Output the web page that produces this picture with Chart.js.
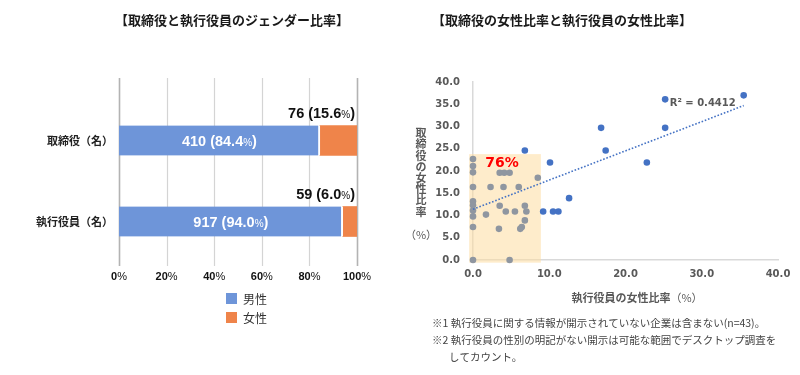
<!DOCTYPE html>
<html lang="ja">
<head>
<meta charset="utf-8">
<title>取締役と執行役員のジェンダー比率</title>
<script src="https://cdn.jsdelivr.net/npm/chart.js@4.4.1/dist/chart.umd.min.js"></script>
<style>
  html, body { margin: 0; padding: 0; background: #fff; }
  #wrap { position: relative; width: 800px; height: 375px; }
  .box { position: absolute; top: 0; width: 400px; height: 375px; }
</style>
</head>
<body>
<div id="wrap">
  <div class="box" style="left:0"><canvas id="genderChart" width="400" height="375"></canvas></div>
  <div class="box" style="left:400px"><canvas id="ratioChart" width="400" height="375"></canvas></div>
</div>
<script>
const JP = '"Noto Sans CJK JP", "Noto Sans", sans-serif';
const NUM = '"Liberation Sans", Arial, sans-serif';
const VERD = '"DejaVu Sans", Verdana, sans-serif';

// --- left: gender ratio (stacked 100% bars)
const categories = ['取締役（名）', '執行役員（名）'];
const maleCounts = [410, 917];
const femaleCounts = [76, 59];
const malePct = [84.4, 94.0];
const femalePct = [15.6, 6.0];
const pctTicks = [0, 20, 40, 60, 80, 100];
const legendNames = ['男性', '女性'];

// --- right: female ratio of directors vs executive officers
const greyX = [0, 0, 0, 0, 0, 0, 0, 0, 0, 0, 4.8, 1.7, 2.3, 3.5, 4.1, 4.8, 4.0, 3.5, 4.3, 3.4, 5.5, 6.0, 6.8, 7.0, 6.8, 6.4, 6.2, 8.5];
const greyY = [22.7, 21.1, 19.7, 16.4, 13.2, 12.3, 11.1, 9.8, 7.4, 0, 0, 10.2, 16.4, 19.6, 19.6, 19.6, 16.4, 12.2, 10.9, 7.0, 10.9, 16.4, 12.2, 10.9, 8.9, 7.4, 7.0, 18.5];
const blueX = [6.8, 10.1, 9.2, 10.5, 11.2, 12.6, 16.8, 17.4, 22.8, 25.2, 25.2, 35.5];
const blueY = [24.6, 21.9, 10.9, 10.9, 10.9, 13.9, 29.7, 24.6, 21.9, 29.7, 36.1, 37.0];
const trendX = [0, 35.5];
const trendY = [11.4, 34.7];
const r2Text = 'R² = 0.4412';
const boxShare = '76%';
const notes = [
  '※1 執行役員に関する情報が開示されていない企業は含まない(n=43)。',
  '※2 執行役員の性別の明記がない開示は可能な範囲でデスクトップ調査を',
  'してカウント。'
];

const BLUE = '#6E95D9';
const ORANGE = '#EF844A';
const DOT_BLUE = '#4472C4';
const DOT_GREY = '#8F96A0';
const AXIS_GREY = '#595959';

// draw a run of text pieces with different fonts on one baseline
function drawMixed(ctx, parts, x, y, align) {
  const widths = parts.map(([t, f]) => { ctx.font = f; return ctx.measureText(t).width; });
  const total = widths.reduce((a, b) => a + b, 0);
  let sx = align === 'center' ? x - total / 2 : align === 'right' ? x - total : x;
  ctx.textAlign = 'left';
  ctx.textBaseline = 'alphabetic';
  parts.forEach(([t, f], i) => {
    ctx.font = f;
    ctx.fillText(t, sx, y);
    sx += widths[i];
  });
}

const genderDecor = {
  id: 'genderDecor',
  beforeDatasetsDraw(chart) {
    // vertical gridlines run past the bar band, like the original plot area
    const ctx = chart.ctx;
    const xs = chart.scales.x;
    ctx.save();
    pctTicks.forEach(v => {
      const edge = v === pctTicks[0] || v === pctTicks[pctTicks.length - 1];
      ctx.strokeStyle = edge ? '#b3b3b3' : '#d4d4d4';
      ctx.lineWidth = edge ? 1.6 : 1.2;
      const px = Math.round(xs.getPixelForValue(v)) + 0.5;
      ctx.beginPath();
      ctx.moveTo(px, 78);
      ctx.lineTo(px, 266);
      ctx.stroke();
    });
    ctx.restore();
  },
  afterDatasetsDraw(chart) {
    const ctx = chart.ctx;
    const male = chart.getDatasetMeta(0).data;
    const female = chart.getDatasetMeta(1).data;
    const area = chart.chartArea;
    ctx.save();
    male.forEach((bar, i) => {
      ctx.fillStyle = '#fff';
      drawMixed(ctx, [
        [`${maleCounts[i]} (${malePct[i].toFixed(1)}`, `bold 14.5px ${NUM}`],
        ['%', `10px ${NUM}`],
        [')', `bold 14.5px ${NUM}`]
      ], (bar.base + bar.x) / 2, bar.y + 5, 'center');
    });
    female.forEach((bar, i) => {
      ctx.fillStyle = '#111';
      drawMixed(ctx, [
        [`${femaleCounts[i]} (${femalePct[i].toFixed(1)}`, `bold 14.5px ${NUM}`],
        ['%', `10px ${NUM}`],
        [')', `bold 14.5px ${NUM}`]
      ], area.right - 2, bar.y - 23, 'right');
    });
    ctx.restore();
  },
  afterDraw(chart) {
    const ctx = chart.ctx;
    const xs = chart.scales.x;
    ctx.save();
    ctx.fillStyle = '#1a1a1a';
    ctx.font = `bold 13px ${JP}`;
    ctx.textAlign = 'center';
    ctx.textBaseline = 'middle';
    ctx.fillText('【取締役と執行役員のジェンダー比率】', 232, 20);

    ctx.fillStyle = '#111';
    pctTicks.forEach(v => {
      drawMixed(ctx, [[String(v), `bold 11px ${NUM}`], ['%', `11px ${NUM}`]], xs.getPixelForValue(v), 280, 'center');
    });

    [BLUE, ORANGE].forEach((c, i) => {
      ctx.fillStyle = c;
      ctx.fillRect(226, 293 + i * 19, 11, 11);
      ctx.fillStyle = '#333';
      ctx.font = `12px ${JP}`;
      ctx.textAlign = 'left';
      ctx.textBaseline = 'middle';
      ctx.fillText(legendNames[i], 243, 299 + i * 19);
    });
    ctx.restore();
  }
};

new Chart(document.getElementById('genderChart'), {
  type: 'bar',
  data: {
    labels: categories,
    datasets: [
      {
        label: legendNames[0],
        data: malePct,
        backgroundColor: BLUE,
        borderColor: '#fff',
        borderWidth: { top: 0, right: 2, bottom: 0, left: 0 },
        borderSkipped: false,
        barThickness: 30
      },
      {
        label: legendNames[1],
        data: femalePct,
        backgroundColor: ORANGE,
        barThickness: 30
      }
    ]
  },
  options: {
    indexAxis: 'y',
    responsive: false,
    animation: false,
    layout: { padding: { top: 100, right: 43, left: 0, bottom: 0 } },
    plugins: { legend: { display: false }, tooltip: { enabled: false } },
    scales: {
      x: {
        type: 'linear',
        min: 0,
        max: 100,
        stacked: true,
        border: { display: false },
        grid: { display: false, drawTicks: false },
        ticks: { display: false, stepSize: 20 },
        afterFit: s => { s.height = 113; }
      },
      y: {
        stacked: true,
        border: { display: false },
        grid: { display: false, drawTicks: false },
        ticks: {
          font: { family: JP, size: 11, weight: 'bold' },
          color: '#222',
          padding: 6
        },
        afterFit: s => { s.width = 119; }
      }
    }
  },
  plugins: [genderDecor]
});

const ratioDecor = {
  id: 'ratioDecor',
  beforeDatasetsDraw(chart) {
    const { ctx, scales: { x, y } } = chart;
    ctx.save();
    ctx.fillStyle = 'rgba(253, 220, 160, 0.55)';
    const left = x.getPixelForValue(-0.5), right = x.getPixelForValue(8.9);
    const top = y.getPixelForValue(23.8), bottom = y.getPixelForValue(-0.6);
    ctx.fillRect(left, top, right - left, bottom - top);
    ctx.restore();
  },
  afterDraw(chart) {
    const { ctx, scales: { x, y } } = chart;
    ctx.save();
    ctx.fillStyle = '#1a1a1a';
    ctx.font = `bold 13px ${JP}`;
    ctx.textAlign = 'left';
    ctx.textBaseline = 'middle';
    ctx.fillText('【取締役の女性比率と執行役員の女性比率】', 32, 20);

    // y-axis title, stacked vertically
    ctx.fillStyle = AXIS_GREY;
    ctx.font = `bold 11px ${JP}`;
    ctx.textAlign = 'center';
    const yTitle = '取締役の女性比率';
    [...yTitle].forEach((ch, i) => ctx.fillText(ch, 21, 133 + i * 11.2));
    ctx.font = `11px ${JP}`;
    ctx.fillText('（%）', 21, 235);

    ctx.fillStyle = AXIS_GREY;
    drawMixed(ctx, [['執行役員の女性比率', `bold 11px ${JP}`], ['（%）', `11px ${JP}`]], 237, 302, 'center');

    ctx.fillStyle = '#ff0000';
    ctx.font = `bold 14px ${VERD}`;
    ctx.textAlign = 'center';
    ctx.textBaseline = 'middle';
    ctx.fillText(boxShare, x.getPixelForValue(3.8), y.getPixelForValue(21.8));

    ctx.fillStyle = AXIS_GREY;
    ctx.font = `bold 10px ${VERD}`;
    ctx.textAlign = 'left';
    ctx.fillText(r2Text, x.getPixelForValue(25.8), y.getPixelForValue(35.2));

    ctx.fillStyle = '#444';
    ctx.font = `10.5px ${JP}`;
    ctx.fillText(notes[0], 32, 323);
    ctx.fillText(notes[1], 32, 340);
    ctx.fillText(notes[2], 49, 357);
    ctx.restore();
  }
};

new Chart(document.getElementById('ratioChart'), {
  type: 'scatter',
  data: {
    datasets: [
      {
        label: '線形近似',
        data: trendX.map((v, i) => ({ x: v, y: trendY[i] })),
        showLine: true,
        borderColor: DOT_BLUE,
        borderWidth: 1.6,
        borderDash: [1.6, 1.8],
        pointRadius: 0,
        clip: false
      },
      {
        label: '76%範囲',
        data: greyX.map((v, i) => ({ x: v, y: greyY[i] })),
        backgroundColor: DOT_GREY,
        borderWidth: 0,
        pointRadius: 3.3,
        clip: false
      },
      {
        label: 'その他',
        data: blueX.map((v, i) => ({ x: v, y: blueY[i] })),
        backgroundColor: DOT_BLUE,
        borderWidth: 0,
        pointRadius: 3.3,
        clip: false
      }
    ]
  },
  options: {
    responsive: false,
    animation: false,
    layout: { padding: { top: 82, right: 22, left: 0, bottom: 0 } },
    plugins: { legend: { display: false }, tooltip: { enabled: false } },
    scales: {
      x: {
        min: 0,
        max: 40,
        border: { color: '#d9d9d9', width: 1.5 },
        grid: { display: false, drawTicks: false },
        ticks: {
          stepSize: 10,
          callback: v => v.toFixed(1),
          font: { family: VERD, size: 10, weight: 'bold' },
          color: AXIS_GREY,
          padding: 8
        },
        afterFit: s => { s.height = 115; }
      },
      y: {
        min: 0,
        max: 40,
        border: { color: '#d9d9d9', width: 1.5 },
        grid: { display: false, drawTicks: false },
        ticks: {
          stepSize: 5,
          callback: v => v.toFixed(1),
          font: { family: VERD, size: 10, weight: 'bold' },
          color: AXIS_GREY,
          padding: 13
        },
        afterFit: s => { s.width = 73; }
      }
    }
  },
  plugins: [ratioDecor]
});
</script>
</body>
</html>
